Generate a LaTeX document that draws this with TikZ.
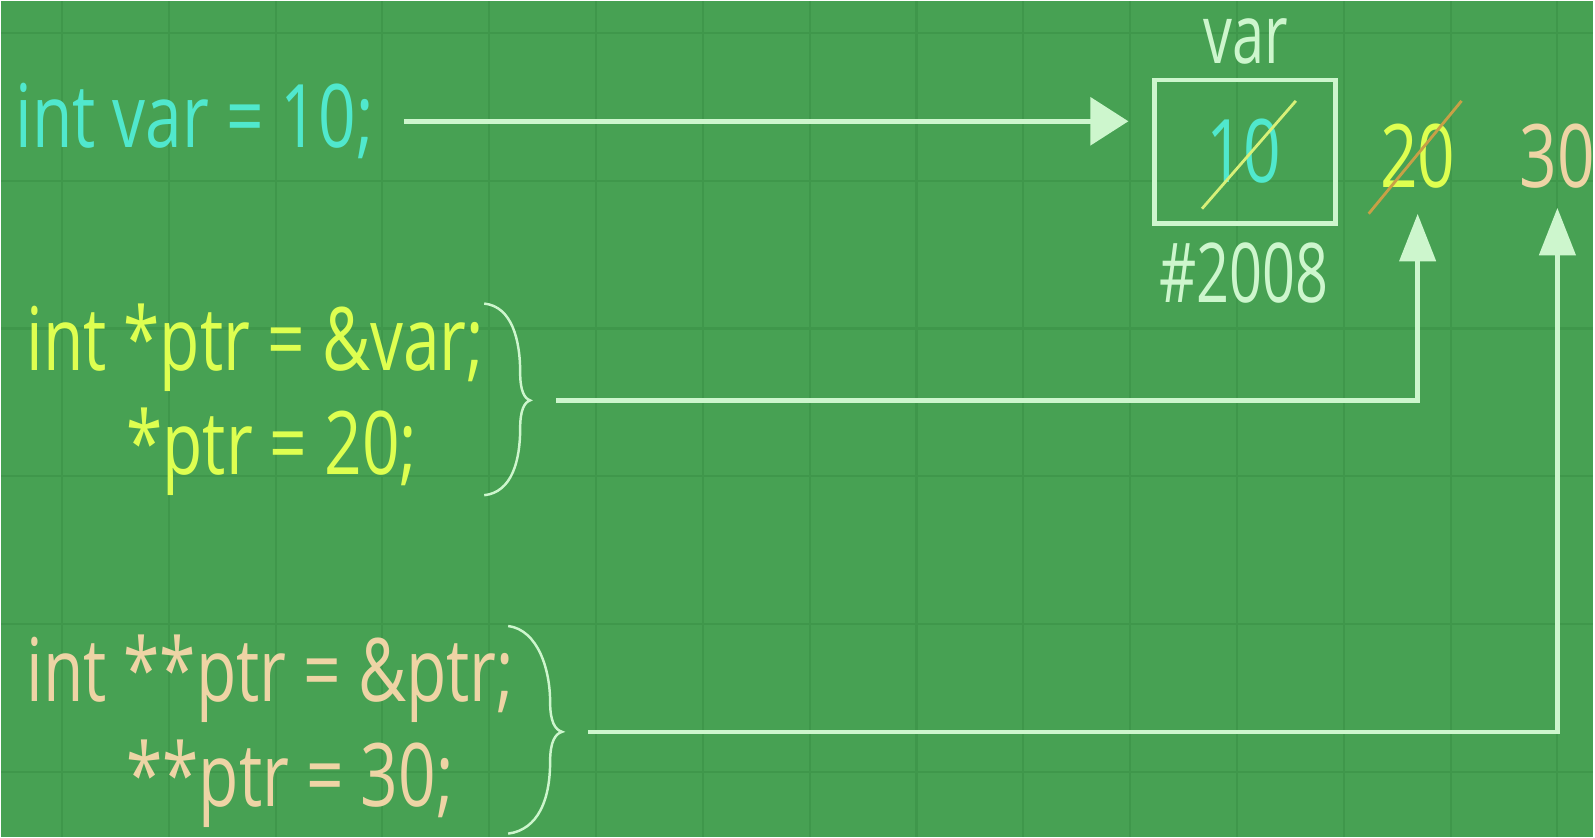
\documentclass[tikz,border=0pt]{standalone}
\usepackage{fontspec}
\setmainfont{Open Sans}[FakeStretch=0.7]
\newfontfamily\codefont{Open Sans}[FakeStretch=0.75]
\usetikzlibrary{arrows.meta}

\definecolor{board}{RGB}{71,161,83}
\definecolor{gridline}{RGB}{63,151,75}
\definecolor{chalk}{RGB}{205,246,205}
\definecolor{cyantext}{RGB}{80,232,205}
\definecolor{yellowtext}{RGB}{222,255,80}
\definecolor{peachtext}{RGB}{238,212,165}
\definecolor{strikeone}{RGB}{215,240,120}
\definecolor{striketwo}{RGB}{200,160,70}

\begin{document}
\begin{tikzpicture}[x=0.02cm, y=-0.02cm,
    every node/.style={inner sep=0pt, font=\fontsize{47}{56}\selectfont},
    code/.style={font=\codefont\fontsize{50}{60}\selectfont},
    wire/.style={line width=2.6pt, chalk},
    rightarr/.style={wire, -{Triangle[length=0.76cm,width=0.95cm]}},
    uparr/.style={wire, -{Triangle[length=0.95cm,width=0.72cm]}},
    bracket/.style={chalk, line width=1.4pt}]

      % board and faint grid
      \fill[board] (0,0) rectangle (1595,837);
      \foreach \gx in {61,168,...,1595}
        \draw[gridline, line width=1.2pt] (\gx,0) -- (\gx,837);
      \foreach \gy in {32,180,...,837}
        \draw[gridline, line width=1.2pt] (0,\gy) -- (1595,\gy);

      % statements
      \node[code, cyantext, anchor=base west] (decl) at (14,147) {int var = 10;};
      \node[code, yellowtext, anchor=base west] (ptrset) at (25,370) {int *ptr = \&var;};
      \node[code, yellowtext, anchor=base west] (ptrderef) at (125,474) {*ptr = 20;};
      \node[code, peachtext, anchor=base west] (pptrset) at (25,702) {int **ptr = \&ptr;};
      \node[code, peachtext, anchor=base west] (pptrderef) at (125,807) {**ptr = 30;};

      % memory cell of var
      \node[draw=chalk, line width=2.6pt, minimum width=3.62cm, minimum height=2.88cm] (cell) at (1246,151) {};
      \node[chalk, anchor=base] (cellname) at (1247,63) {var};
      \node[chalk, anchor=base] (addr) at (1245,302) {\#2008};
      \node[code, cyantext, anchor=base] (v10) at (1245,182) {10};
      \node[code, yellowtext, anchor=base] (v20) at (1419,187) {20};
      \node[code, peachtext, anchor=base] (v30) at (1559,187) {30};

      % old values struck out
      \draw[strikeone, line width=1.6pt] (1203,208) -- (1297,100);
      \draw[striketwo, line width=1.6pt] (1370,213) -- (1463,100);

      % braces round the pointer statements
      \draw[bracket] (484,303) .. controls (512,306) and (520,340) .. (520,372)
        .. controls (520,390) and (524,398) .. (530,400)
        .. controls (524,402) and (520,410) .. (520,428)
        .. controls (520,460) and (512,492) .. (484,495);
      \coordinate (tip1) at (530,400);
      \draw[bracket] (508,626) .. controls (538,630) and (550,670) .. (550,702)
        .. controls (550,722) and (555,730) .. (562,732)
        .. controls (555,734) and (550,742) .. (550,762)
        .. controls (550,800) and (538,830) .. (508,834);
      \coordinate (tip2) at (562,732);

      % arrows
      \draw[rightarr, shorten <=0.6cm, shorten >=0.48cm] (decl) -- (decl -| cell.west);
      \draw[uparr, shorten <=0.52cm, shorten >=0.5cm] (tip1) -| (v20.south);
      \draw[uparr, shorten <=0.52cm, shorten >=0.38cm] (tip2) -| (v30.south);

\end{tikzpicture}
\end{document}
